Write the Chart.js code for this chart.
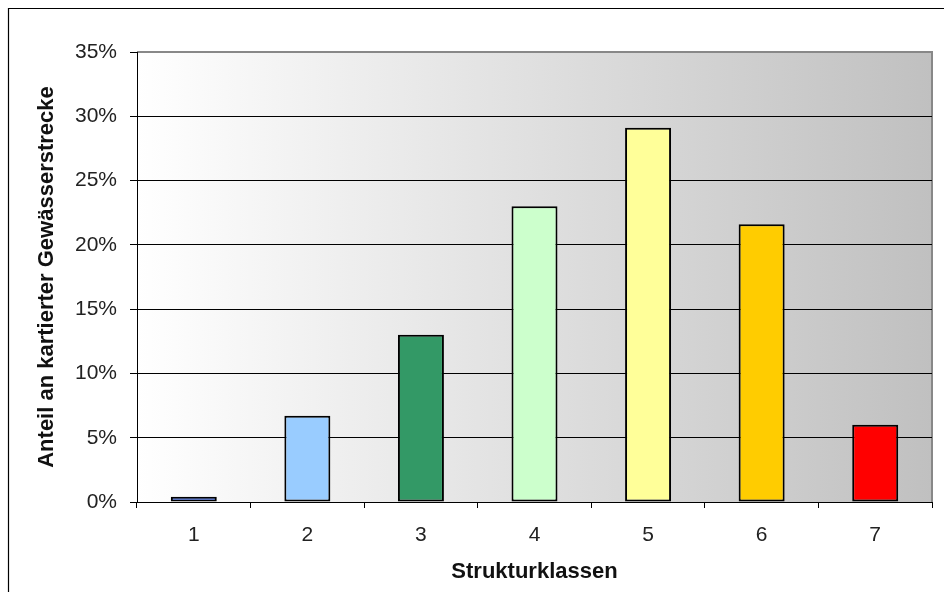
<!DOCTYPE html>
<html>
<head>
<meta charset="utf-8">
<script src="https://cdn.jsdelivr.net/npm/chart.js@4/dist/chart.umd.min.js"></script>
<style>
  html, body { margin: 0; padding: 0; background: #fff; }
  #wrap { width: 944px; height: 592px; position: relative; }
</style>
</head>
<body>
<div id="wrap"><canvas id="c" width="944" height="592"></canvas></div>
<script>
// Strukturklassen und Anteil an kartierter Gewässerstrecke (%)
const classes = ['1', '2', '3', '4', '5', '6', '7'];
const shares = [0.4, 6.7, 13.0, 23.0, 29.1, 21.6, 6.0];
const barColors = ['#3366FF', '#99CCFF', '#339966', '#CCFFCC', '#FFFF99', '#FFCC00', '#FF0000'];
const yTicks = [0, 5, 10, 15, 20, 25, 30, 35];

const FONT = "'Liberation Sans', Arial, sans-serif";

// Plot background (white to grey gradient), plot frame and outer frame
const framePlugin = {
  id: 'frames',
  beforeDraw(chart) {
    const { ctx, chartArea: a } = chart;
    ctx.save();
    const g = ctx.createLinearGradient(a.left, 0, a.right, 0);
    g.addColorStop(0, '#ffffff');
    g.addColorStop(1, '#c0c0c0');
    ctx.fillStyle = g;
    ctx.fillRect(a.left, a.top, a.right - a.left, a.bottom - a.top);
    ctx.strokeStyle = '#888888';
    ctx.lineWidth = 2;
    ctx.beginPath();
    ctx.moveTo(a.left, a.top);
    ctx.lineTo(a.right, a.top);
    ctx.lineTo(a.right, a.bottom);
    ctx.stroke();
    ctx.strokeStyle = '#000';
    ctx.lineWidth = 1.2;
    ctx.beginPath();
    ctx.moveTo(chart.width, 8.5);
    ctx.lineTo(8.5, 8.5);
    ctx.lineTo(8.5, chart.height);
    ctx.stroke();
    ctx.restore();
  }
};

new Chart(document.getElementById('c'), {
  type: 'bar',
  data: {
    labels: classes,
    datasets: [{
      data: shares,
      backgroundColor: barColors,
      borderColor: '#000',
      borderWidth: 2,
      borderSkipped: false,
      barPercentage: 0.405,
      categoryPercentage: 1
    }]
  },
  options: {
    responsive: false,
    animation: false,
    events: [],
    layout: { padding: { top: 52, right: 12, left: 0, bottom: 0 } },
    plugins: { legend: { display: false }, tooltip: { enabled: false } },
    scales: {
      x: {
        afterFit(s) { s.height = 90; },
        grid: {
          offset: true,
          drawOnChartArea: false,
          tickLength: 6,
          tickColor: '#000'
        },
        border: { color: '#000', width: 1 },
        ticks: { color: '#222', font: { family: FONT, size: 21 }, padding: 15 },
        title: {
          display: true,
          text: 'Strukturklassen',
          color: '#111',
          font: { family: FONT, size: 22, weight: 'bold' },
          padding: 7
        }
      },
      y: {
        min: 0,
        max: 35,
        afterFit(s) { s.width = 137; },
        afterBuildTicks(s) { s.ticks = yTicks.map(v => ({ value: v })); },
        grid: {
          color: (c) => (c.tick && c.tick.value === 35 ? 'rgba(0,0,0,0)' : '#000'),
          tickColor: '#000',
          tickLength: 7,
          lineWidth: 1
        },
        border: { color: '#000', width: 1 },
        ticks: {
          color: '#222',
          font: { family: FONT, size: 21 },
          padding: 13,
          callback: (v) => v + '%'
        },
        title: {
          display: true,
          text: 'Anteil an kartierter Gewässerstrecke',
          color: '#111',
          font: { family: FONT, size: 22, weight: 'bold' },
          padding: 34
        }
      }
    }
  },
  plugins: [framePlugin]
});
</script>
</body>
</html>
